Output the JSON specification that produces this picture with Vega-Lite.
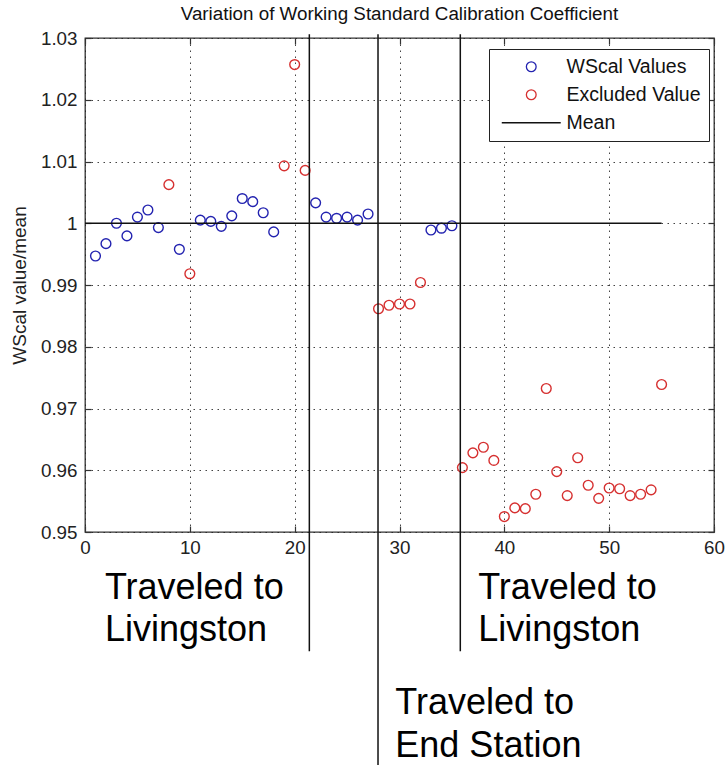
{
  "$schema": "https://vega.github.io/schema/vega-lite/v6.json",
  "width": 629,
  "height": 494,
  "autosize": {"type": "none"},
  "padding": {"left": 85, "top": 38, "right": 11, "bottom": 233},
  "background": "white",
  "title": {
    "text": "Variation of Working Standard Calibration Coefficient",
    "fontSize": 18.8,
    "fontWeight": "normal",
    "font": "Liberation Sans",
    "color": "#111111",
    "baseline": "alphabetic",
    "offset": 14,
    "dy": 24,
    "anchor": "middle"
  },
  "config": {
    "font": "Liberation Sans",
    "view": {"stroke": "#333333", "strokeWidth": 1.3},
    "axis": {
      "domain": false,
      "labelFont": "Liberation Sans",
      "labelFontSize": 18.8,
      "labelColor": "#222222",
      "titleFont": "Liberation Sans",
      "titleFontSize": 19,
      "titleFontWeight": "normal",
      "titleColor": "#222222",
      "tickColor": "#333333",
      "tickWidth": 1.2,
      "gridColor": "#222222",
      "gridDash": [1.5, 4.5],
      "gridWidth": 1,
      "gridOpacity": 0.85
    },
    "legend": {
      "orient": "none",
      "legendX": 404,
      "legendY": 11,
      "strokeColor": "#222222",
      "fillColor": "white",
      "padding": 8,
      "labelFont": "Liberation Sans",
      "labelFontSize": 19.5,
      "labelColor": "#111111",
      "labelOffset": 25.5,
      "symbolOffset": 24.5,
      "symbolSize": 95,
      "rowPadding": 7,
      "symbolStrokeWidth": 1.3,
      "cornerRadius": 0
    }
  },
  "datasets": {
    "wscal": [
      {"sample": 1, "ratio": 0.9947, "series": "WScal Values"},
      {"sample": 2, "ratio": 0.9967, "series": "WScal Values"},
      {"sample": 3, "ratio": 1.0000, "series": "WScal Values"},
      {"sample": 4, "ratio": 0.99795, "series": "WScal Values"},
      {"sample": 5, "ratio": 1.0010, "series": "WScal Values"},
      {"sample": 6, "ratio": 1.00215, "series": "WScal Values"},
      {"sample": 7, "ratio": 0.9993, "series": "WScal Values"},
      {"sample": 8, "ratio": 1.00625, "series": "Excluded Value"},
      {"sample": 9, "ratio": 0.99578, "series": "WScal Values"},
      {"sample": 10, "ratio": 0.99183, "series": "Excluded Value"},
      {"sample": 11, "ratio": 1.0005, "series": "WScal Values"},
      {"sample": 12, "ratio": 1.0003, "series": "WScal Values"},
      {"sample": 13, "ratio": 0.9995, "series": "WScal Values"},
      {"sample": 14, "ratio": 1.0012, "series": "WScal Values"},
      {"sample": 15, "ratio": 1.0040, "series": "WScal Values"},
      {"sample": 16, "ratio": 1.0035, "series": "WScal Values"},
      {"sample": 17, "ratio": 1.0017, "series": "WScal Values"},
      {"sample": 18, "ratio": 0.9986, "series": "WScal Values"},
      {"sample": 19, "ratio": 1.0093, "series": "Excluded Value"},
      {"sample": 20, "ratio": 1.0257, "series": "Excluded Value"},
      {"sample": 21, "ratio": 1.00856, "series": "Excluded Value"},
      {"sample": 22, "ratio": 1.0033, "series": "WScal Values"},
      {"sample": 23, "ratio": 1.0010, "series": "WScal Values"},
      {"sample": 24, "ratio": 1.0008, "series": "WScal Values"},
      {"sample": 25, "ratio": 1.0010, "series": "WScal Values"},
      {"sample": 26, "ratio": 1.0005, "series": "WScal Values"},
      {"sample": 27, "ratio": 1.0015, "series": "WScal Values"},
      {"sample": 28, "ratio": 0.98616, "series": "Excluded Value"},
      {"sample": 29, "ratio": 0.98672, "series": "Excluded Value"},
      {"sample": 30, "ratio": 0.98693, "series": "Excluded Value"},
      {"sample": 31, "ratio": 0.98693, "series": "Excluded Value"},
      {"sample": 32, "ratio": 0.9904, "series": "Excluded Value"},
      {"sample": 33, "ratio": 0.9989, "series": "WScal Values"},
      {"sample": 34, "ratio": 0.9992, "series": "WScal Values"},
      {"sample": 35, "ratio": 0.9996, "series": "WScal Values"},
      {"sample": 36, "ratio": 0.96043, "series": "Excluded Value"},
      {"sample": 37, "ratio": 0.96282, "series": "Excluded Value"},
      {"sample": 38, "ratio": 0.96373, "series": "Excluded Value"},
      {"sample": 39, "ratio": 0.96159, "series": "Excluded Value"},
      {"sample": 40, "ratio": 0.9525, "series": "Excluded Value"},
      {"sample": 41, "ratio": 0.9539, "series": "Excluded Value"},
      {"sample": 42, "ratio": 0.95378, "series": "Excluded Value"},
      {"sample": 43, "ratio": 0.95612, "series": "Excluded Value"},
      {"sample": 44, "ratio": 0.97324, "series": "Excluded Value"},
      {"sample": 45, "ratio": 0.95978, "series": "Excluded Value"},
      {"sample": 46, "ratio": 0.9559, "series": "Excluded Value"},
      {"sample": 47, "ratio": 0.96203, "series": "Excluded Value"},
      {"sample": 48, "ratio": 0.95757, "series": "Excluded Value"},
      {"sample": 49, "ratio": 0.95545, "series": "Excluded Value"},
      {"sample": 50, "ratio": 0.95712, "series": "Excluded Value"},
      {"sample": 51, "ratio": 0.9570, "series": "Excluded Value"},
      {"sample": 52, "ratio": 0.9559, "series": "Excluded Value"},
      {"sample": 53, "ratio": 0.95612, "series": "Excluded Value"},
      {"sample": 54, "ratio": 0.95683, "series": "Excluded Value"},
      {"sample": 55, "ratio": 0.97389, "series": "Excluded Value"}
    ],
    "mean": [{"start": 0, "end": 55, "value": 1}],
    "trips": [
      {"sample": 21.4, "top": 1.0306, "bottom": 0.9307},
      {"sample": 27.95, "top": 1.0306, "bottom": 0.905},
      {"sample": 35.8, "top": 1.0306, "bottom": 0.9307}
    ],
    "notes": [
      {"sample": 1.9, "ratio": 0.9392, "label": "Traveled to\nLivingston"},
      {"sample": 29.6, "ratio": 0.9205, "label": "Traveled to\nEnd Station"},
      {"sample": 37.5, "ratio": 0.9392, "label": "Traveled to\nLivingston"}
    ]
  },
  "resolve": {"axis": {"x": "independent", "y": "independent"}},
  "layer": [
    {
      "data": {"name": "wscal"},
      "mark": {"type": "point", "filled": false, "strokeWidth": 1.4, "size": 95, "opacity": 1, "clip": false},
      "encoding": {
        "x": {
          "field": "sample",
          "type": "quantitative",
          "scale": {"domain": [0, 60], "nice": false, "zero": false},
          "axis": {"values": [0, 10, 20, 30, 40, 50, 60], "grid": true, "tickSize": -6, "labelPadding": 12, "title": null, "labelFlush": false}
        },
        "y": {
          "field": "ratio",
          "type": "quantitative",
          "scale": {"domain": [0.95, 1.03], "nice": false, "zero": false},
          "axis": {
            "values": [0.95, 0.96, 0.97, 0.98, 0.99, 1, 1.01, 1.02, 1.03],
            "format": ".2~f",
            "grid": true,
            "tickSize": -6,
            "labelPadding": 14,
            "labelFlush": false,
            "title": "WScal value/mean",
            "titleX": -60,
            "titleBaseline": "alphabetic"
          }
        },
        "color": {
          "field": "series",
          "type": "nominal",
          "scale": {"domain": ["WScal Values", "Excluded Value", "Mean"], "range": ["#2323b0", "#d63030", "#111111"]},
          "legend": {"title": null}
        },
        "shape": {
          "field": "series",
          "type": "nominal",
          "scale": {"domain": ["WScal Values", "Excluded Value", "Mean"], "range": ["circle", "circle", "M-6.05,0H6.05"]},
          "legend": {"title": null}
        }
      }
    },
    {
      "data": {"name": "mean"},
      "mark": {"type": "rule", "color": "#111111", "strokeWidth": 1.3},
      "encoding": {
        "x": {
          "field": "start",
          "type": "quantitative",
          "axis": {"orient": "top", "values": [0, 10, 20, 30, 40, 50, 60], "labels": false, "grid": false, "tickSize": -6, "title": null, "minExtent": 0, "maxExtent": 0}
        },
        "x2": {"field": "end"},
        "y": {
          "field": "value",
          "type": "quantitative",
          "axis": {"orient": "right", "values": [0.95, 0.96, 0.97, 0.98, 0.99, 1, 1.01, 1.02, 1.03], "labels": false, "grid": false, "tickSize": -6, "title": null, "minExtent": 0, "maxExtent": 0}
        }
      }
    },
    {
      "data": {"name": "trips"},
      "mark": {"type": "rule", "color": "#111111", "strokeWidth": 1.5, "clip": false},
      "encoding": {
        "x": {"field": "sample", "type": "quantitative", "axis": null},
        "y": {"field": "top", "type": "quantitative", "axis": null},
        "y2": {"field": "bottom"}
      }
    },
    {
      "data": {"name": "notes"},
      "mark": {"type": "text", "align": "left", "baseline": "alphabetic", "fontSize": 36, "font": "Liberation Sans", "color": "#000000", "lineBreak": "\n", "lineHeight": 42.5, "clip": false},
      "encoding": {
        "x": {"field": "sample", "type": "quantitative", "axis": null},
        "y": {"field": "ratio", "type": "quantitative", "axis": null},
        "text": {"field": "label"}
      }
    }
  ]
}
